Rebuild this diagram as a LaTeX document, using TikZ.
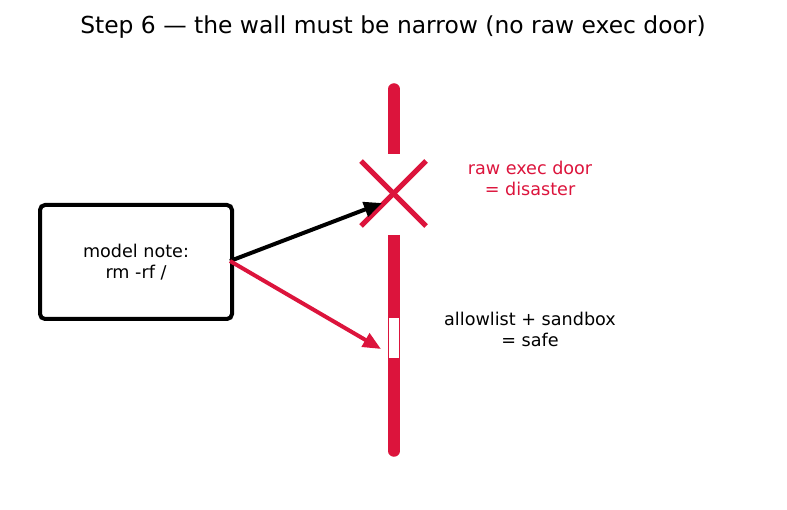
\documentclass[tikz,border=0pt]{standalone}
\usepackage{fontspec}
\setmainfont{DejaVu Sans}
\usetikzlibrary{arrows.meta}
\definecolor{wallred}{HTML}{DC143C}
\begin{document}
\begin{tikzpicture}[x=1pt,y=-1pt,
  label12/.style={font=\fontsize{17.6}{21}\selectfont, align=center, inner sep=0pt},
  wallline/.style={draw=wallred, line width=11.5pt},
  flow/.style={line width=4pt, -{Triangle[length=18pt,width=15pt]}, shorten >=0pt}]
  \useasboundingbox (0,0) rectangle (787,510);
  % title
  \node[font=\fontsize{23.4}{28}\selectfont, inner sep=0pt] (title) at (393,27) {Step 6 — the wall must be narrow (no raw exec door)};
  % wall: upper piece, lower piece with a narrow door
  \draw[wallline, line cap=round] (394,89) -- (394,140);
  \draw[wallline] (394,120) -- (394,154);
  \draw[wallline] (394,235) -- (394,260);
  \draw[wallline, line cap=round] (394,250) -- (394,451);
  \draw[fill=white, draw=wallred, line width=0.8pt] (388.6,317) rectangle (399.4,358);
  \coordinate (door) at (394,337);
  % crossed-out raw exec door
  \coordinate (xc) at (394,193);
  \draw[wallred, line width=5pt] (361,161) -- (426,226);
  \draw[wallred, line width=5pt] (426,161) -- (361,226);
  % the model note
  \node[draw, line width=4pt, rounded corners=5pt, minimum width=192pt, minimum height=114pt,
        label12, inner sep=0pt] (note) at (136,262) {model note:\\rm -rf /};
  \coordinate (src) at (230,261);
  \coordinate (hitx) at (382,203);
  \coordinate (hitdoor) at (381,349);
  \draw[flow, black] (src) -- (hitx);
  \draw[flow, wallred] (src) -- (hitdoor);
  % labels
  \node[label12, text=wallred] (lbad) at (530,178) {raw exec door\\= disaster};
  \node[label12] (lgood) at (530,329) {allowlist + sandbox\\= safe};
\end{tikzpicture}
\end{document}
